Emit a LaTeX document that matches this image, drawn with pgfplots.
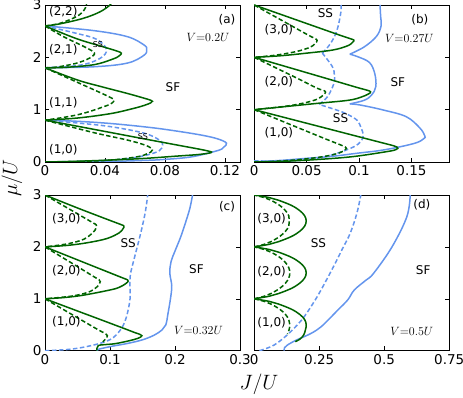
\documentclass[border=0pt]{standalone}
\usepackage{fontspec}
\setmainfont{DejaVu Sans}
\usepackage{pgfplots}
\pgfplotsset{compat=1.18}
\definecolor{dgreen}{RGB}{0,100,0}
\definecolor{lblue}{RGB}{100,149,237}
\tikzset{
  gs/.style={color=dgreen,line width=1.5pt,smooth,tension=0.6},
  gd/.style={gs,dash pattern=on 4.5pt off 2.5pt},
  bs/.style={color=lblue,line width=1.5pt,smooth,tension=0.6},
  bd/.style={bs,dash pattern=on 4.5pt off 2.5pt},
  lab/.style={font=\fontsize{12}{12}\selectfont,inner sep=0pt},
  vlab/.style={font=\fontsize{12.5}{12.5}\selectfont,inner sep=0pt},
}
\pgfplotsset{panel/.style={scale only axis,width=195pt,ymin=0,ymax=3,
  ytick={0,1,2,3},tick align=inside,no markers,clip mode=individual,
  axis line style={line width=0.7pt},tick style={black,line width=0.6pt},
  ticklabel style={font=\fontsize{13.5}{13.5}\selectfont}}}
\begin{document}
\begin{tikzpicture}[x=1pt,y=1pt]
\useasboundingbox (0,0) rectangle (463,-398);
% (a)
\begin{axis}[panel,height=157pt,at={(45pt,-162pt)},anchor=south west,
  xmin=0,xmax=0.13,xtick={0,0.04,0.08,0.12},xticklabels={0,0.04,0.08,0.12},
  yticklabels={0,1,2,3}]
\addplot[bs] coordinates {(0,0.8) (0.02,0.78) (0.044,0.735) (0.07,0.66) (0.088,0.59) (0.105,0.51) (0.1153,0.44) (0.121,0.36) (0.119,0.28) (0.1153,0.22) (0.098,0.1) (0.08,0.05) (0.066,0.03) (0.04,0.01) (0,0)};
\addplot[bd] coordinates {(0,0.8) (0.02,0.75) (0.0438,0.675) (0.0662,0.55) (0.0762,0.42) (0.0784,0.325) (0.0762,0.216) (0.068,0.134) (0.0549,0.064) (0.0327,0.02) (0,0)};
\addplot[gs] coordinates {(0,0.8) (0.02,0.692) (0.044,0.562) (0.07,0.421) (0.09,0.314) (0.102,0.25) (0.108,0.215) (0.111,0.19) (0.1095,0.17) (0.105,0.152) (0.1,0.137) (0.088,0.113) (0.066,0.068) (0.044,0.038) (0.02,0.013) (0,0)};
\addplot[gd] coordinates {(0,0.8) (0.0327,0.56) (0.0549,0.42) (0.066,0.33) (0.0705,0.27) (0.0716,0.23) (0.0705,0.19) (0.0675,0.15) (0.0616,0.1) (0.0438,0.037) (0.02,0.008) (0,0)};
\addplot[gs] coordinates {(0,1.8) (0.0216,1.567) (0.0375,1.44) (0.0549,1.31) (0.066,1.22) (0.0705,1.18) (0.0716,1.16) (0.0705,1.13) (0.066,1.08) (0.0585,1.02) (0.0438,0.925) (0.0216,0.84) (0,0.8)};
\addplot[gd] coordinates {(0,1.8) (0.0233,1.5) (0.038,1.31) (0.0445,1.22) (0.046,1.18) (0.0448,1.13) (0.0405,1.07) (0.0256,0.93) (0.013,0.855) (0,0.8)};
\addplot[bs] coordinates {(0,2.6) (0.0327,2.51) (0.0549,2.395) (0.066,2.236) (0.0678,2.15) (0.066,2.04) (0.0549,1.89) (0.0327,1.82) (0,1.8)};
\addplot[bd] coordinates {(0,2.6) (0.0207,2.46) (0.0344,2.345) (0.041,2.15) (0.0367,1.98) (0.0233,1.85) (0,1.8)};
\addplot[gs] coordinates {(0,2.6) (0.0207,2.36) (0.0389,2.2) (0.048,2.12) (0.0509,2.08) (0.0495,2.03) (0.0455,1.97) (0.0327,1.86) (0.0127,1.807) (0,1.8)};
\addplot[gd] coordinates {(0,2.6) (0.012,2.4) (0.025,2.22) (0.031,2.13) (0.033,2.08) (0.032,2.03) (0.028,1.96) (0.02,1.88) (0.008,1.815) (0,1.8)};
\addplot[gs] coordinates {(0,2.6) (0.01,2.64) (0.0256,2.746) (0.0367,2.87) (0.0433,3.0) (0.046,3.1)};
\addplot[gd] coordinates {(0,2.6) (0.01,2.65) (0.0211,2.78) (0.026,2.9) (0.0275,3.0) (0.028,3.1)};
\node[lab] at (axis cs:0.0122,2.87) {(2,2)};
\node[lab] at (axis cs:0.0122,2.14) {(2,1)};
\node[lab] at (axis cs:0.0122,1.13) {(1,1)};
\node[lab] at (axis cs:0.0122,0.23) {(1,0)};
\node[lab,font=\fontsize{8}{8}\selectfont] at (axis cs:0.0353,2.24) {SS};
\node[lab,font=\fontsize{8}{8}\selectfont] at (axis cs:0.0653,0.48) {SS};
\node[lab] at (axis cs:0.0853,1.43) {SF};
\node[lab] at (axis cs:0.1213,2.71) {(a)};
\node[vlab] at (axis cs:0.1087,2.39) {$V{=}0.2U$};
\end{axis}
% (b)
\begin{axis}[panel,height=157pt,at={(254.2pt,-162pt)},anchor=south west,
  xmin=0,xmax=0.186,xtick={0,0.05,0.1,0.15},xticklabels={0,0.05,0.1,0.15},
  yticklabels={}]
\addplot[bs] coordinates {(0,0.005) (0.025,0.03) (0.05,0.07) (0.075,0.11) (0.0976,0.166) (0.12,0.22) (0.139,0.29) (0.155,0.37) (0.162,0.45) (0.1627,0.5) (0.158,0.65) (0.145,0.866) (0.123,0.994) (0.1008,1.09) (0.0912,1.11)};
\addplot[bs] coordinates {(0.0912,1.11) (0.105,1.18) (0.112,1.28) (0.116,1.44) (0.115,1.69) (0.11,1.9) (0.099,2.01) (0.0912,2.06)};
\addplot[bs] coordinates {(0.0912,2.06) (0.105,2.2) (0.1166,2.4) (0.121,2.6) (0.1206,2.78) (0.12,3.0)};
\addplot[bd] coordinates {(0,0.02) (0.03,0.02) (0.0476,0.04) (0.065,0.09) (0.079,0.166) (0.095,0.29) (0.102,0.4) (0.104,0.516) (0.102,0.65) (0.098,0.8) (0.088,0.92) (0.079,0.99) (0.062,1.1)};
\addplot[bd] coordinates {(0.062,1.1) (0.07,1.25) (0.076,1.5) (0.0765,1.65) (0.0746,1.82) (0.065,2.08)};
\addplot[bd] coordinates {(0.065,2.08) (0.073,2.27) (0.079,2.52) (0.0825,2.84) (0.083,3.0)};
\addplot[gs] coordinates {(0,1) (0.0635,0.671) (0.1016,0.473) (0.125,0.352) (0.133,0.31) (0.1365,0.28) (0.137,0.26) (0.135,0.235) (0.127,0.2) (0.095,0.105) (0.0635,0.052) (0.03,0.015) (0,0)};
\addplot[gd] coordinates {(0,1) (0.041,0.662) (0.07,0.425) (0.082,0.33) (0.087,0.285) (0.088,0.26) (0.086,0.22) (0.079,0.16) (0.065,0.1) (0.045,0.05) (0.02,0.012) (0,0)};
\addplot[gs] coordinates {(0,2) (0.07,1.59) (0.098,1.425) (0.108,1.37) (0.111,1.34) (0.109,1.3) (0.102,1.24) (0.09,1.18) (0.06,1.12) (0.0286,1.057) (0,1)};
\addplot[gd] coordinates {(0,2) (0.04,1.61) (0.06,1.41) (0.066,1.37) (0.068,1.335) (0.066,1.28) (0.06,1.2) (0.048,1.13) (0.03,1.065) (0,1)};
\addplot[gs] coordinates {(0,3) (0.041,2.71) (0.08,2.435) (0.091,2.36) (0.095,2.33) (0.094,2.29) (0.089,2.22) (0.075,2.14) (0.05,2.08) (0.025,2.03) (0,2)};
\addplot[gd] coordinates {(0,3) (0.03,2.665) (0.052,2.42) (0.058,2.36) (0.06,2.32) (0.058,2.26) (0.053,2.19) (0.04,2.11) (0.02,2.04) (0,2)};
\node[lab] at (axis cs:0.068,2.84) {SS};
\node[lab] at (axis cs:0.0236,2.52) {(3,0)};
\node[lab] at (axis cs:0.0236,1.53) {(2,0)};
\node[lab] at (axis cs:0.0236,0.55) {(1,0)};
\node[lab] at (axis cs:0.0824,0.835) {SS};
\node[lab] at (axis cs:0.137,1.53) {SF};
\node[lab] at (axis cs:0.158,2.71) {(b)};
\node[vlab] at (axis cs:0.148,2.36) {$V{=}0.27U$};
\end{axis}
% (c)
\begin{axis}[panel,height=155.7pt,at={(45pt,-350.7pt)},anchor=south west,
  xmin=0,xmax=0.3,xtick={0,0.1,0.2,0.3},xticklabels={0,0.1,0.2,0.3},
  yticklabels={0,1,2,3}]
\addplot[bd] coordinates {(0,0) (0.04,0.03) (0.075,0.11) (0.101,0.22) (0.116,0.4) (0.124,0.6) (0.129,0.85) (0.131,1.04) (0.131,1.43) (0.138,1.81) (0.146,2.2) (0.154,2.65) (0.158,3.0)};
\addplot[bs] coordinates {(0.08,0) (0.083,0.03) (0.105,0.09) (0.127,0.14) (0.15,0.21) (0.168,0.3) (0.18,0.4) (0.186,0.5) (0.189,0.7) (0.193,1.0) (0.195,1.25) (0.192,1.5) (0.194,1.72) (0.2,1.92) (0.209,2.2) (0.217,2.5) (0.223,2.75) (0.227,3.0)};
\addplot[gs] coordinates {(0,1) (0.05,0.765) (0.0846,0.603) (0.12,0.436) (0.138,0.35) (0.146,0.315) (0.149,0.29) (0.146,0.255) (0.137,0.215) (0.12,0.165) (0.106,0.132) (0.09,0.115) (0.082,0.1) (0.08,0.05) (0.08,0)};
\addplot[gd] coordinates {(0,1) (0.05,0.635) (0.083,0.395) (0.093,0.33) (0.096,0.29) (0.095,0.25) (0.092,0.21) (0.089,0.17)};
\addplot[gs] coordinates {(0,2) (0.05,1.75) (0.1,1.5) (0.12,1.4) (0.127,1.365) (0.128,1.34) (0.124,1.29) (0.114,1.22) (0.1,1.17) (0.059,1.07) (0.03,1.025) (0,1)};
\addplot[gd] coordinates {(0,2) (0.05,1.62) (0.076,1.42) (0.083,1.37) (0.085,1.33) (0.083,1.27) (0.077,1.2) (0.065,1.12) (0.04,1.05) (0,1)};
\addplot[gs] coordinates {(0,3) (0.05,2.75) (0.1,2.51) (0.117,2.43) (0.1215,2.4) (0.12,2.35) (0.114,2.27) (0.095,2.16) (0.065,2.08) (0.035,2.03) (0,2)};
\addplot[gd] coordinates {(0,3) (0.04,2.71) (0.073,2.47) (0.0785,2.43) (0.0795,2.4) (0.078,2.35) (0.074,2.28) (0.06,2.15) (0.035,2.06) (0,2)};
\node[lab] at (axis cs:0.033,2.55) {(3,0)};
\node[lab] at (axis cs:0.033,1.55) {(2,0)};
\node[lab] at (axis cs:0.033,0.56) {(1,0)};
\node[lab] at (axis cs:0.128,2.07) {SS};
\node[lab] at (axis cs:0.233,1.57) {SF};
\node[lab] at (axis cs:0.28,2.77) {(c)};
\node[vlab] at (axis cs:0.236,0.4) {$V{=}0.32U$};
\end{axis}
% (d)
\begin{axis}[panel,height=155.7pt,at={(254.2pt,-350.7pt)},anchor=south west,
  xmin=0,xmax=0.75,xtick={0,0.25,0.5,0.75},xticklabels={0,0.25,0.5,0.75},
  yticklabels={}]
\addplot[bd] coordinates {(0.02,0) (0.045,0.04) (0.077,0.11) (0.11,0.23) (0.141,0.37) (0.17,0.52) (0.193,0.66) (0.225,0.9) (0.257,1.17) (0.305,1.62) (0.34,1.97) (0.369,2.26) (0.395,2.65) (0.41,3.0)};
\addplot[bs] coordinates {(0.115,0) (0.117,0.06) (0.128,0.11) (0.16,0.2) (0.192,0.27) (0.225,0.35) (0.257,0.46) (0.29,0.62) (0.321,0.78) (0.36,0.98) (0.385,1.17) (0.43,1.36) (0.459,1.49) (0.53,2.0) (0.587,2.58) (0.6,3.0)};
\addplot[gs] coordinates {(0,1) (0.058,0.95) (0.093,0.9) (0.143,0.8) (0.175,0.7) (0.194,0.6) (0.2,0.5) (0.197,0.4) (0.19,0.3) (0.175,0.22) (0.158,0.175)};
\addplot[gd] coordinates {(0,1) (0.039,0.95) (0.064,0.9) (0.098,0.8) (0.12,0.7) (0.133,0.6) (0.137,0.5) (0.134,0.4) (0.128,0.32)};
\addplot[gs] coordinates {(0,1) (0.058,1.05) (0.093,1.1) (0.143,1.2) (0.175,1.3) (0.194,1.4) (0.2,1.5) (0.194,1.6) (0.175,1.7) (0.143,1.8) (0.093,1.9) (0.058,1.95) (0,2)};
\addplot[gd] coordinates {(0,1) (0.039,1.05) (0.064,1.1) (0.098,1.2) (0.12,1.3) (0.133,1.4) (0.137,1.5) (0.133,1.6) (0.12,1.7) (0.098,1.8) (0.064,1.9) (0.039,1.95) (0,2)};
\addplot[gs] coordinates {(0,2) (0.058,2.05) (0.093,2.1) (0.143,2.2) (0.175,2.3) (0.194,2.4) (0.2,2.5) (0.194,2.6) (0.175,2.7) (0.143,2.8) (0.093,2.9) (0.058,2.95) (0,3)};
\addplot[gd] coordinates {(0,2) (0.039,2.05) (0.064,2.1) (0.098,2.2) (0.12,2.3) (0.133,2.4) (0.135,2.5) (0.133,2.6) (0.12,2.7) (0.098,2.8) (0.064,2.9) (0.039,2.95) (0,3)};
\node[lab] at (axis cs:0.067,2.55) {(3,0)};
\node[lab] at (axis cs:0.067,1.52) {(2,0)};
\node[lab] at (axis cs:0.067,0.53) {(1,0)};
\node[lab] at (axis cs:0.247,2.07) {SS};
\node[lab] at (axis cs:0.65,1.55) {SF};
\node[lab] at (axis cs:0.645,2.81) {(d)};
\node[vlab] at (axis cs:0.606,0.37) {$V{=}0.5U$};
\end{axis}
\node[rotate=90,font=\fontsize{20}{20}\selectfont] at (12,-178) {$\mu/U$};
\node[font=\fontsize{20}{20}\selectfont] at (259,-384) {$J/U$};
\end{tikzpicture}
\end{document}
